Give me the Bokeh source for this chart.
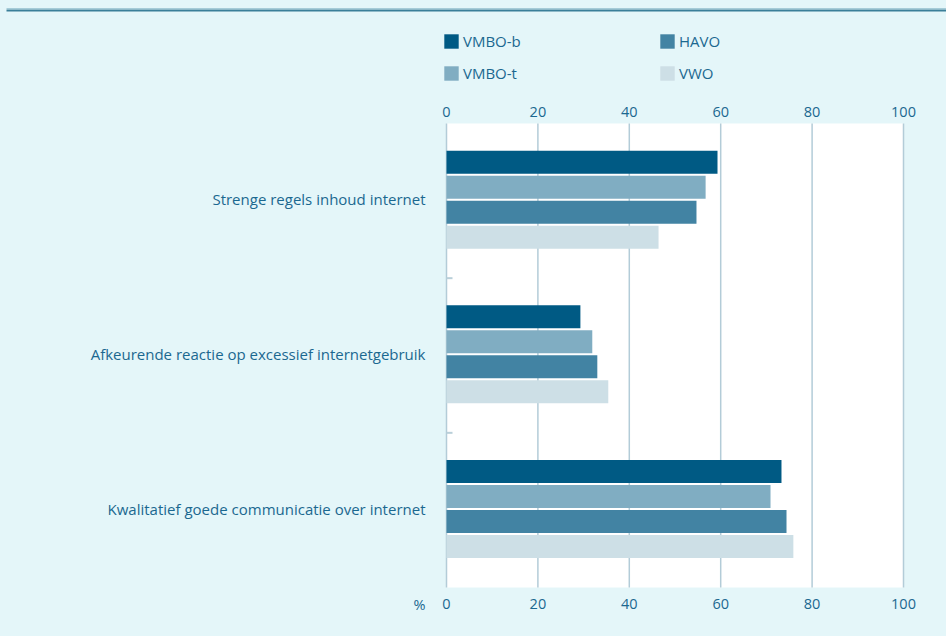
import numpy as np
from bokeh.plotting import figure
from bokeh.models import Range1d, FixedTicker, Legend, LegendItem, LinearAxis, Label
from bokeh.embed import file_html
from bokeh.resources import INLINE

categories = [
    "Strenge regels inhoud internet",
    "Afkeurende reactie op excessief internetgebruik",
    "Kwalitatief goede communicatie over internet",
]
series_names = ["VMBO-b", "VMBO-t", "HAVO", "VWO"]
vmbo_b = [59.3, 29.3, 73.3]
vmbo_t = [56.7, 31.9, 70.9]
havo = [54.7, 33.0, 74.4]
vwo = [46.4, 35.4, 75.9]
x_ticks = [0, 20, 40, 60, 80, 100]

series_values = [vmbo_b, vmbo_t, havo, vwo]
colors = ["#005a84", "#80adc2", "#4283a3", "#cddfe6"]
text_color = "#1b6890"
bg = "#e4f6f9"
FONT = "Open Sans"

W, H = 946, 636
# pixel layout of the white plotting area inside the canvas
PX_LEFT, PX_RIGHT, PX_TOP, PX_BOTTOM = 446, 903, 123, 587
XMAX = 100.0
n = len(categories)
sx = (PX_RIGHT - PX_LEFT) / XMAX
sy = (PX_BOTTOM - PX_TOP) / n
x0 = -PX_LEFT / sx
y0 = -(H - PX_BOTTOM) / sy

def dx(px):
    return (px - PX_LEFT) / sx

def dy(py):
    return (PX_BOTTOM - py) / sy

p = figure(width=W, height=H, output_backend="svg", toolbar_location=None, title=None,
           x_range=Range1d(x0, x0 + W / sx), y_range=Range1d(y0, y0 + H / sy),
           x_axis_location=None, y_axis_location=None)
p.min_border = 0
p.min_border_left = p.min_border_right = p.min_border_top = p.min_border_bottom = 0
p.background_fill_color = bg
p.border_fill_color = bg
p.outline_line_color = None
p.grid.visible = False

# white plotting area
p.quad(left=0, right=XMAX, bottom=0, top=n, fill_color="white", line_color=None)

# vertical grid lines inside the white area
p.segment(x0=x_ticks, x1=x_ticks, y0=[0] * len(x_ticks), y1=[n] * len(x_ticks),
          line_color="#b3ccd8", line_width=1.5)

# top rule
p.segment(x0=[dx(6)], x1=[dx(W + 2)], y0=[dy(8)], y1=[dy(8)], line_color="#a6ccd8", line_width=1)
p.segment(x0=[dx(6)], x1=[dx(W + 2)], y0=[dy(10)], y1=[dy(10)], line_color="#3a7f99", line_width=2)

# bars
centres = np.array([n - 0.5 - i for i in range(n)])
pitch = 25.0 / sy
bar_h = 23.0 / sy
shift = 1.2 / sy
offsets = [1.5 * pitch + shift, 0.5 * pitch + shift, -0.5 * pitch + shift, -1.5 * pitch + shift]

renderers = []
for vals, off, col in zip(series_values, offsets, colors):
    r = p.hbar(y=list(centres + off), left=0, right=vals, height=bar_h,
               fill_color=col, line_color=None)
    renderers.append(r)

# small separators between category groups
seps = [float(k) for k in range(1, n)]
p.segment(x0=[0] * len(seps), x1=[6 / sx] * len(seps), y0=seps, y1=seps,
          line_color="#b9cfd9", line_width=2)

# y axis (category labels)
label_pos = [float(c + 1.5 / sy) for c in centres]
yax = LinearAxis(fixed_location=0, ticker=FixedTicker(ticks=label_pos))
yax.major_label_overrides = {c: lab for c, lab in zip(label_pos, categories)}
yax.axis_line_color = None
yax.major_tick_line_color = None
yax.minor_tick_line_color = None
yax.major_tick_out = 0
yax.major_tick_in = 0
yax.major_label_standoff = 21
yax.major_label_text_font = FONT
yax.major_label_text_font_size = "15px"
yax.major_label_text_color = text_color
p.add_layout(yax, "left")

# x axes top and bottom
for loc, fixed, standoff in (("above", n, 7), ("below", 0, 11)):
    ax = LinearAxis(fixed_location=fixed, ticker=FixedTicker(ticks=x_ticks))
    ax.axis_line_color = None
    ax.major_tick_line_color = None
    ax.minor_tick_line_color = None
    ax.major_tick_out = 0
    ax.major_tick_in = 0
    ax.major_label_standoff = standoff
    ax.major_label_text_font = FONT
    ax.major_label_text_font_size = "14.5px"
    ax.major_label_text_color = text_color
    p.add_layout(ax, loc)

p.add_layout(Label(x=dx(425), y=dy(604), text="%", text_align="right", text_baseline="middle",
                   text_font=FONT, text_font_size="14.5px", text_color=text_color))

GLYPH = 18  # legend draws area glyphs with a 10% inset -> ~14px squares

def make_legend(items, px_x, px_bottom):
    lg = Legend(items=items, location=(px_x, H - px_bottom), orientation="vertical")
    lg.background_fill_alpha = 0
    lg.border_line_color = None
    lg.padding = 0
    lg.margin = 0
    lg.spacing = 12
    lg.glyph_width = GLYPH
    lg.glyph_height = GLYPH
    lg.label_height = 20
    lg.label_standoff = 3
    lg.label_text_font = FONT
    lg.label_text_font_size = "15px"
    lg.label_text_color = text_color
    return lg

items = [LegendItem(label=nm, renderers=[r]) for nm, r in zip(series_names, renderers)]
p.add_layout(make_legend(items[:2], 442, 83))
p.add_layout(make_legend(items[2:], 658, 83))

html = file_html(p, INLINE)
style = "<style>html,body{background:%s;margin:0;}</style>" % bg
html = html.replace("</head>", style + "</head>", 1)
open("out.html", "w").write(html)
